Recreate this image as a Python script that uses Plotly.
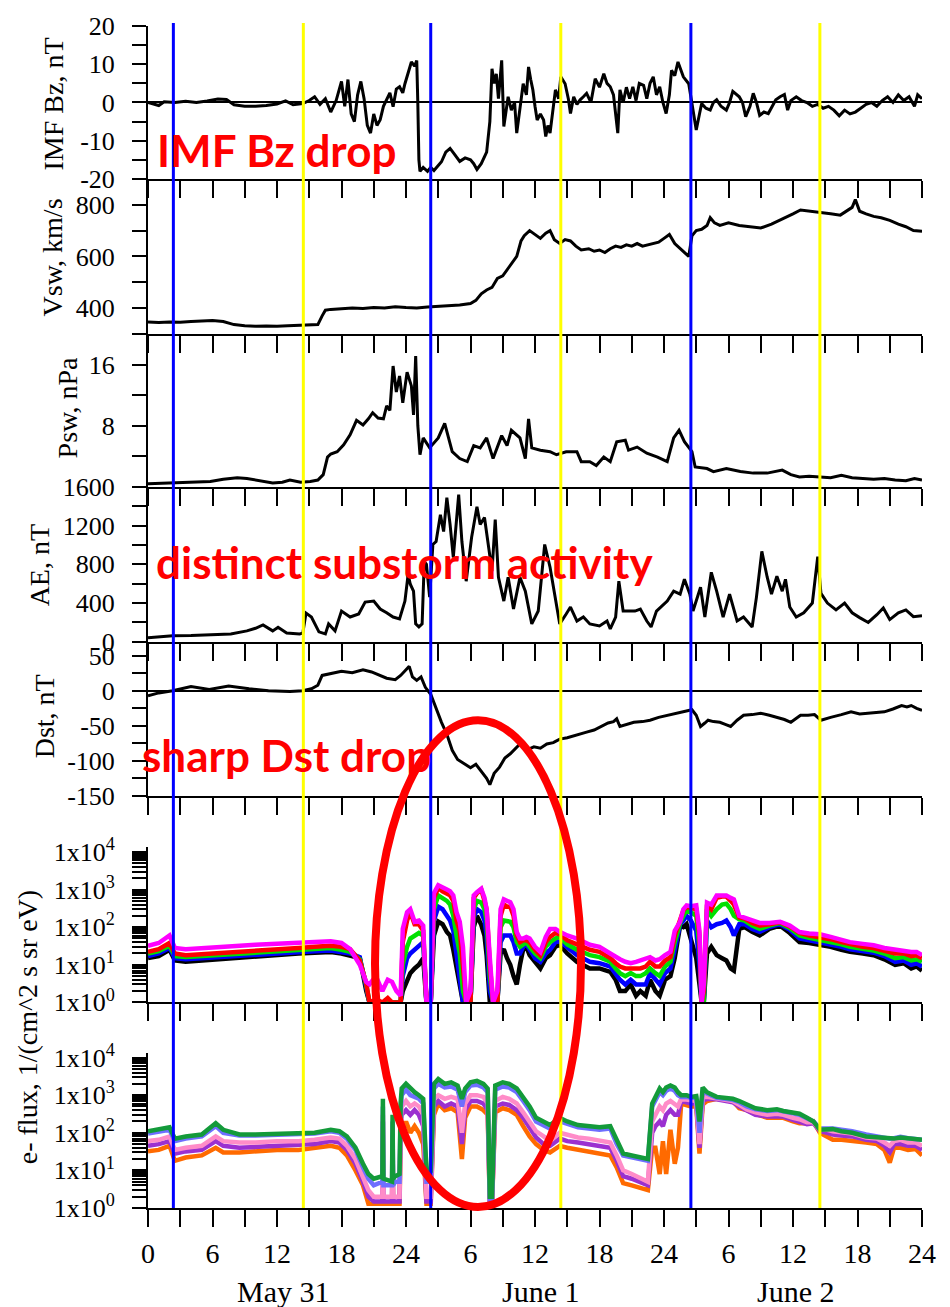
import plotly.graph_objects as go

# ---------------- data (hours from 00 UT May 31) ----------------
BZ_T = [0, 0.5, 1.0, 1.5, 2.5, 3.5, 4.5, 5.5, 6.5, 7.3, 8.0, 9.0, 10.0, 11.0, 12.0, 12.8, 13.5, 14.4,
        15.0, 15.5, 16.0, 16.5, 17.0, 17.5, 18.0, 18.3, 18.6, 18.9, 19.2, 19.5, 19.8, 20.1, 20.4, 20.7,
        21.0, 21.3, 21.6, 21.9, 22.2, 22.5, 22.8, 23.1, 23.4, 23.7, 23.9, 24.2, 24.5, 24.8, 25.0, 25.1,
        25.2, 25.3, 25.6, 26.0, 26.3, 26.6, 26.9, 27.3, 27.7, 28.1, 28.5, 29.0, 29.5, 30.0, 30.3, 30.6,
        31.0, 31.5, 31.8, 32.0, 32.2, 32.4, 32.6, 32.9, 33.1, 33.3, 33.5, 33.8, 34.1, 34.3, 34.6, 34.9,
        35.2, 35.4, 35.6, 35.8, 36.0, 36.2, 36.5, 36.8, 37.0, 37.2, 37.4, 37.7, 37.9, 38.2, 38.4, 38.8,
        39.1, 39.3, 39.6, 39.9, 40.2, 40.5, 40.8, 41.2, 41.6, 42.0, 42.4, 42.7, 43.0, 43.3, 43.5, 43.7,
        43.9, 44.2, 44.5, 44.8, 45.1, 45.4, 45.7, 46.1, 46.4, 46.7, 47.0, 47.3, 47.6, 47.9, 48.2, 48.5,
        48.7, 49.0, 49.3, 49.6, 49.8, 50.3, 50.6, 51.0, 51.3, 51.5, 51.9, 52.3, 52.6, 52.9, 53.3, 53.8,
        54.1, 54.4, 55.0, 55.3, 55.6, 56.0, 56.3, 56.6, 56.9, 57.3, 57.7, 58.0, 58.4, 58.8, 59.2, 59.5,
        59.8, 60.3, 60.8, 61.3, 61.8, 62.3, 62.8, 63.3, 63.8, 64.3, 64.8, 65.3, 65.8, 66.3, 66.8, 67.3,
        67.8, 68.3, 68.8, 69.3, 69.8, 70.3, 70.8, 71.3, 71.6, 72.0]
BZ_V = [0.0, -0.5, -0.8, 0.2, 0.0, 0.3, 0.0, 0.4, 0.9, 0.8, -0.6, -1.0, -1.0, -0.8, -0.4, 0.4, -0.6, -0.3,
        0.5, 1.5, -0.5, 1.0, -2.5, 0.5, 5.5, -1.0, 6.0, -3.0, -5.0, 2.0, 5.5, 1.0, -6.0, -8.0,
        -3.0, -6.0, -4.5, -1.0, 0.7, 2.5, -1.1, 3.5, 4.1, 2.5, 4.9, 7.5, 10.6, 9.5, 11.0, -0.3,
        -15.0, -18.0, -17.0, -18.0, -17.0, -17.8, -16.7, -15.5, -13.0, -12.0, -13.5, -15.4, -14.5, -15.0, -16.0, -17.5,
        -16.0, -13.0, -5.0, 8.8, 5.0, 7.5, 1.0, 11.0, -6.3, -2.0, 1.5, -2.0, 0.0, -8.0, -1.0, 4.9,
        2.0, 9.3, 6.0, 3.3, -1.0, -4.6, -3.0, -4.6, -8.9, -6.0, -8.0, -2.0, 3.3, 1.0, 6.7, 4.9,
        1.0, -2.9, 1.5, -0.5, 0.7, 1.5, 2.4, 0.0, 6.2, 4.0, 7.5, 5.0, 4.1, 2.0, -3.0, -8.0,
        3.3, 0.0, 4.0, 1.0, 4.1, 0.5, 5.0, 4.5, 1.0, 5.0, 6.7, 2.0, 4.1, 0.0, -2.9, 2.0,
        8.4, 7.0, 10.6, 8.0, 6.7, 4.9, -0.3, -7.2, -3.0, -0.3, -1.5, -2.0, 0.0, 0.7, -1.0, -2.0,
        0.0, 2.9, 1.5, 0.0, -3.7, -1.0, 2.4, 0.0, -3.4, -2.5, -2.9, -1.5, 0.7, 1.5, 2.1, -2.0,
        0.5, 1.5, 0.5, 0.0, -1.0, -0.5, -1.5, -1.0, -2.0, -3.5, -2.0, -3.0, -2.5, -1.5, -0.5, 0.0,
        -1.0, 0.5, 1.5, 0.0, 2.0, 0.5, 1.5, -1.0, 2.0, 1.0]

VSW_T = [0, 1, 2, 3, 4, 5, 6, 7, 8, 9, 10, 11, 12, 13, 14, 15, 15.8, 16.2, 16.5, 17, 18, 19, 20, 21, 22,
         23, 24, 25, 26, 27, 28, 29, 30, 30.5, 31, 31.5, 32, 32.5, 33, 33.5, 34, 34.3, 34.7, 35, 35.5,
         36, 36.5, 37, 37.4, 37.8, 38.3, 38.8, 39.3, 39.8, 40.3, 41, 41.5, 42, 42.5, 43, 43.5, 44, 44.5,
         45, 45.5, 46, 46.5, 47, 47.5, 48, 48.5, 49, 49.5, 50, 50.3, 50.6, 51, 51.5, 52, 52.3, 52.7,
         53.2, 54, 55, 56, 57, 58, 58.8, 59.5, 60, 60.7, 61.5, 62.5, 63.5, 64.4, 65, 65.5, 65.8, 66.2,
         66.8, 67.5, 68.2, 69, 69.8, 70.5, 71.2, 72]
VSW_V = [346, 344, 346, 345, 348, 350, 352, 348, 336, 332, 330, 331, 330, 332, 333, 335, 336, 370, 392, 395,
         398, 400, 398, 402, 400, 405, 402, 400, 404, 406, 408, 412, 418, 430, 455, 470, 480, 515, 525,
         555, 580, 600, 660, 680, 700, 685, 670, 690, 700, 665, 650, 665, 660, 640, 625, 630, 620, 625,
         615, 630, 640, 635, 645, 640, 650, 640, 645, 650, 655, 670, 685, 650, 630, 610, 600, 680, 700,
         705, 720, 750, 730, 720, 730, 720, 715, 710, 725, 740, 755, 765, 780, 775, 770, 765, 760, 775,
         790, 820, 775, 765, 755, 750, 740, 725, 715, 700, 698]

PSW_T = [0, 1, 2.3, 4, 5.8, 7, 8.3, 9.2, 10.1, 11.6, 12.5, 13.2, 14.2, 15.1, 15.8, 16.3, 16.7, 17.0, 17.6,
         18.2, 18.8, 19.4, 20.0, 20.5, 20.9, 21.4, 21.9, 22.2, 22.5, 22.8, 23.1, 23.4, 23.7, 24.1, 24.5,
         24.7, 24.9, 25.1, 25.3, 25.6, 26.2, 26.6, 27.0, 27.6, 28.3, 29.0, 29.7, 30.3, 30.9, 31.5, 32.1,
         32.9, 33.4, 33.8, 34.6, 35.1, 35.4, 35.7, 36.5, 37.4, 38.0, 38.9, 39.9, 40.3, 41.1, 41.7, 42.4,
         43.0, 43.6, 44.4, 44.7, 45.5, 46.4, 47.4, 48.3, 48.9, 49.4, 49.9, 50.6, 50.9, 52.0, 52.6, 53.8,
         55.1, 56.3, 57.6, 59.0, 59.8, 60.6, 61.5, 62.5, 63.5, 64.5, 65.5, 66.5, 67.5, 68.5, 69.5, 70.5,
         71.3, 72]
PSW_V = [0.4, 0.45, 0.5, 0.6, 0.7, 1.0, 1.2, 1.1, 0.9, 0.5, 0.6, 0.9, 0.6, 0.7, 0.9, 1.6, 3.9, 4.3, 4.6,
         5.5, 6.8, 8.7, 8.1, 8.9, 9.7, 9.0, 8.9, 10.6, 10.0, 15.8, 12.4, 14.5, 11.0, 15.0, 13.2,
         9.4, 17.1, 8.0, 4.2, 6.4, 5.1, 5.8, 6.4, 8.3, 4.6, 3.7, 3.3, 5.4, 5.1, 6.4, 3.7,
         6.7, 5.4, 7.4, 6.4, 3.7, 8.9, 5.1, 4.8, 4.6, 4.2, 4.6, 4.6, 3.3, 3.3, 2.8, 3.9,
         3.3, 5.9, 6.1, 4.8, 5.2, 4.4, 3.9, 3.3, 6.4, 7.4, 5.9, 4.6, 2.6, 2.4, 2.0, 2.4,
         2.0, 1.8, 1.8, 2.2, 1.6, 1.3, 1.4, 1.3, 1.2, 1.5, 1.2, 1.1, 1.0, 1.1, 0.9, 0.8,
         1.1, 0.9]

AE_T = [0, 1, 2.3, 4, 5.8, 7.7, 9.2, 10.0, 10.7, 11.2, 11.6, 12.1, 12.9, 14.1, 14.4, 14.7, 15.2, 15.9,
        16.5, 16.8, 17.4, 18.0, 18.8, 19.6, 20.2, 21.0, 21.6, 22.2, 22.8, 23.4, 23.9, 24.2, 24.4, 24.7,
        24.9, 25.2, 25.5, 25.7, 25.9, 26.2, 26.5, 26.8, 27.2, 27.5, 27.8, 28.1, 28.4, 28.9, 29.2, 29.6,
        30.1, 30.6, 30.9, 31.3, 31.7, 32.0, 32.3, 32.6, 33.1, 33.5, 34.0, 34.6, 35.1, 35.7, 36.3, 36.9,
        37.4, 37.8, 38.3, 38.9, 39.3, 39.9, 40.5, 41.1, 42.0, 42.7, 43.0, 43.5, 43.8, 44.2, 45.3, 45.8,
        46.4, 46.8, 47.3, 48.3, 48.9, 49.5, 49.9, 50.4, 50.7, 51.4, 51.8, 52.4, 52.9, 53.5, 54.1, 54.8,
        55.4, 56.2, 56.6, 57.1, 57.6, 58.0, 58.5, 59.0, 59.3, 59.7, 60.3, 61.0, 61.8, 62.3, 62.6, 63.2,
        64.0, 64.8, 65.5, 66.2, 67.0, 67.8, 68.4, 69.0, 69.8, 70.5, 71.2, 72.0]
AE_V = [41, 50, 62, 65, 72, 82, 113, 140, 174, 140, 113, 150, 92, 82, 90, 297, 256, 103,
        82, 185, 113, 318, 256, 287, 410, 421, 339, 300, 256, 236, 421, 698, 595, 523,
        185, 154, 185, 831, 800, 462, 1005, 1036, 1313, 1139, 1488, 1211, 872, 1519, 1036, 626,
        1077, 1395, 1211, 1283, 934, 729, 1262, 667, 421, 667, 339, 667, 523, 185, 318, 1005,
        770, 523, 185, 287, 359, 215, 256, 185, 164, 215, 133, 256, 626, 318, 318, 339,
        215, 154, 318, 421, 523, 493, 646, 493, 318, 564, 256, 718, 523, 256, 493, 215,
        256, 154, 462, 934, 667, 493, 677, 523, 646, 359, 256, 300, 400, 880, 500, 400,
        330, 400, 300, 250, 200, 280, 350, 230, 300, 330, 260, 270]

DST_T = [0, 1, 2.3, 4, 5.7, 7.5, 9.4, 11.2, 13.2, 14.4, 15.2, 15.8, 16.2, 17, 18, 19, 20, 20.8, 21.5,
         22.2, 23, 23.5, 24, 24.3, 24.6, 25, 25.4, 25.8, 26.3, 26.8, 27.3, 27.8, 28.3, 28.8, 29.3, 30,
         30.5, 31, 31.5, 31.8, 32.2, 32.7, 33.2, 33.7, 34.2, 34.6, 35.3, 35.9, 36.5, 37.1, 37.7, 38.3,
         39.0, 39.6, 40.2, 40.8, 41.5, 42.1, 42.8, 43.3, 43.6, 43.9, 44.5, 45.2, 46.0, 46.7, 47.5, 48.3,
         49.0, 49.8, 50.6, 51.0, 51.4, 51.8, 52.1, 52.6, 53.2, 53.7, 54.2, 54.8, 55.4, 56.2, 57.0, 57.8,
         58.5, 59.2, 59.8, 60.3, 60.7, 61.4, 62.0, 62.6, 63.0, 63.5, 64.5, 65.4, 66.2, 67.0, 67.8, 68.5,
         69.3, 70.1, 70.6, 71.0, 71.5, 72.0]
DST_V = [-7, -3, 0, 6, 2, 7, 3, 0, -1, 0, 3, 8, 22, 25, 28, 26, 30, 27, 22,
         18, 16, 22, 30, 35, 20, 15, 20, 5, -5, -25, -45, -62, -85, -98, -103, -110,
         -105, -115, -125, -134, -118, -109, -96, -90, -82, -76, -84, -80, -82, -76, -74, -69,
         -67, -64, -62, -59, -56, -51, -46, -44, -40, -51, -48, -45, -44, -42, -38, -35,
         -33, -30, -27, -35, -51, -46, -42, -44, -45, -48, -51, -42, -35, -34, -32, -35,
         -38, -41, -45, -40, -35, -35, -34, -42, -40, -38, -34, -30, -33, -32, -31, -30,
         -26, -21, -23, -21, -25, -28]

# electron flux, detector 1 (five energy channels)
FLUX1_T = [0, 1.0, 2.0, 2.5, 3.5, 5.0, 6.5, 8.0, 10.0, 12.0,
           14.0, 15.5, 17.0, 18.0, 18.8, 19.7, 20.3, 20.6, 21.2, 21.8,
           22.3, 22.7, 23.1, 23.5, 23.7, 24.1, 24.4, 24.8, 25.2, 25.6,
           25.9, 26.3, 26.6, 27.0, 27.4, 27.8, 28.1, 28.4, 28.7, 29.0,
           29.3, 29.6, 30.0, 30.3, 30.6, 31.0, 31.3, 31.5, 31.8, 32.1,
           32.5, 32.8, 33.1, 33.4, 33.7, 34.0, 34.3, 34.6, 34.9, 35.2,
           35.5, 36.0, 36.5, 37.0, 37.4, 37.9, 38.3, 39.0, 39.9, 41.1,
           42.0, 43.0, 43.5, 43.9, 44.4, 44.9, 45.4, 45.8, 46.3, 46.7,
           47.2, 47.6, 48.1, 48.6, 49.0, 49.5, 49.8, 50.1, 50.5, 51.0,
           51.3, 51.5, 51.7, 52.0, 52.4, 52.9, 53.4, 53.8, 54.2, 54.5,
           55.0, 55.5, 56.2, 56.9, 57.8, 58.8, 59.7, 60.6, 61.5, 62.5,
           63.5, 64.5, 65.3, 66.5, 67.5, 68.5, 69.5, 70.3, 71.0, 71.5,
           72.0]
FLUX1_BLACK = [15, 17, 25, 13, 12, 13, 14, 15, 16, 18,
               20, 21, 22, 20, 18, 15, 2, 1, 1, 1,
               1, 1, 1, 1, 2, 4, 6, 8, 10, 15,
               1, 1, 60, 140, 120, 75, 60, 25, 8, 2.3,
               1, 1, 1, 100, 200, 115, 60, 18, 1, 1,
               1, 20, 26, 15, 10, 5, 3, 10, 26, 30,
               18, 12, 8, 15, 18, 30, 34, 20, 12, 8,
               8, 6.5, 4, 2, 2, 3, 1.5, 2, 1.5, 4,
               2, 1.5, 4, 5, 15, 110, 100, 120, 50, 15,
               3, 1, 1, 20, 30, 18, 15, 13, 8, 7,
               90, 100, 75, 60, 90, 110, 70, 40, 38, 34,
               30, 25, 22, 20, 18, 14, 10, 11, 8, 9,
               7]
FLUX1_BLUE = [17, 20, 28, 15, 14, 15, 16, 17, 18, 20,
              22, 23, 24, 22, 20, 16, 2.5, 1, 1, 1,
              1, 1, 1, 1, 5, 15, 20, 25, 30, 40,
              1, 1, 150, 350, 300, 200, 150, 80, 20, 5,
              1, 1, 1, 180, 300, 250, 150, 60, 2, 1,
              1, 40, 60, 60, 60, 40, 20, 20, 30, 35,
              25, 15, 12, 20, 25, 40, 42, 28, 18, 12,
              11, 9, 6, 4, 3, 4, 3, 3, 3, 6,
              4, 3, 6, 8, 25, 120, 150, 200, 150, 80,
              10, 1, 1, 150, 100, 120, 130, 150, 100, 60,
              120, 120, 90, 75, 100, 120, 85, 50, 45, 40,
              35, 30, 26, 24, 21, 17, 12, 13, 10, 11,
              9]
FLUX1_GREEN = [20, 23, 32, 17, 16, 17, 18, 19, 21, 23,
               25, 26, 28, 25, 22, 14, 3, 1, 1, 1,
               1, 1, 1, 1, 10, 30, 50, 60, 70, 60,
               1, 1, 300, 700, 600, 500, 400, 200, 60, 20,
               2, 1, 1, 300, 500, 450, 300, 150, 5, 1,
               1, 100, 150, 140, 140, 100, 40, 30, 35, 40,
               30, 20, 15, 30, 40, 50, 55, 35, 25, 18,
               16, 12, 8, 6, 5, 6, 5, 5, 6, 8,
               6, 5, 9, 12, 40, 130, 200, 280, 250, 200,
               30, 1, 1, 300, 200, 300, 400, 420, 300, 200,
               160, 150, 110, 90, 110, 130, 95, 60, 52, 46,
               40, 35, 30, 27, 24, 20, 15, 16, 13, 14,
               12]
FLUX1_RED = [22, 26, 38, 20, 18, 19, 21, 22, 24, 26,
             28, 30, 32, 30, 26, 13, 3.2, 1, 1.2, 1,
             1.3, 1, 1, 1, 40, 150, 250, 120, 120, 80,
             1, 1, 600, 1100, 900, 800, 700, 500, 150, 80,
             10, 1, 1, 600, 800, 1000, 500, 300, 10, 1,
             1, 200, 400, 350, 350, 200, 60, 40, 45, 45,
             40, 25, 18, 40, 55, 70, 65, 45, 35, 25,
             22, 15, 11, 9, 8, 8, 8, 8, 9, 12,
             9, 9, 13, 16, 60, 140, 280, 350, 330, 300,
             60, 1, 2, 400, 300, 600, 650, 650, 500, 400,
             180, 170, 130, 110, 120, 135, 105, 70, 60, 55,
             48, 40, 35, 30, 28, 24, 20, 20, 17, 18,
             15]
FLUX1_MAGENTA = [32, 38, 60, 28, 26, 28, 30, 32, 34, 36,
                 38, 40, 42, 38, 26, 10, 3.5, 3, 5, 2,
                 4, 3.5, 2, 1.5, 90, 250, 300, 140, 150, 110,
                 1, 1, 800, 1300, 1100, 1000, 900, 700, 250, 140,
                 30, 1, 2, 700, 850, 1050, 600, 300, 15, 1,
                 2, 300, 550, 500, 460, 300, 75, 50, 50, 55,
                 50, 30, 22, 55, 90, 90, 75, 60, 50, 34,
                 30, 20, 16, 14, 12, 11, 12, 13, 14, 16,
                 13, 14, 18, 22, 80, 140, 300, 380, 360, 380,
                 80, 1, 3, 450, 400, 700, 700, 700, 600, 550,
                 200, 180, 150, 130, 130, 140, 110, 74, 68, 65,
                 55, 45, 40, 36, 33, 28, 25, 24, 22, 22,
                 18]

# electron flux, detector 2 (five energy channels)
FLUX2_T = [0, 1.0, 2.0, 2.5, 3.5, 5.0, 6.3, 7.0, 8.5, 10.0,
           12.0, 14.0, 15.5, 17.0, 17.8, 18.5, 19.3, 20.0, 20.5, 21.0,
           21.8, 21.85, 21.9, 22.7, 22.75, 22.8, 23.0, 23.4, 23.5, 23.6,
           24.0, 24.4, 24.8, 25.2, 25.6, 25.9, 26.3, 26.6, 27.0, 27.6,
           28.2, 28.8, 29.2, 29.5, 30.0, 30.6, 31.2, 31.6, 31.8, 32.0,
           32.3, 33.0, 33.6, 34.3, 34.9, 35.5, 36.1, 36.8, 37.4, 38.3,
           39.0, 40.0, 41.0, 42.0, 43.0, 43.6, 44.2, 45.0, 45.8, 46.5,
           46.9, 47.2, 47.6, 47.9, 48.2, 48.6, 49.0, 49.3, 49.6, 50.1,
           50.5, 51.0, 51.3, 51.6, 52.0, 52.9, 53.8, 54.4, 55.0, 55.7,
           56.5, 57.6, 58.5, 59.1, 60.0, 60.6, 61.3, 61.9, 62.5, 63.2,
           63.7, 64.5, 65.5, 66.8, 67.8, 68.5, 69.0, 69.4, 70.0, 70.7,
           71.4, 72.0]
FLUX2_ORANGE = [32, 35, 45, 18, 22, 25, 40, 30, 30, 32,
                35, 35, 40, 45, 40, 25, 10, 4, 1.3, 1.3,
                1.3, 1.3, 1.3, 1.3, 20, 1.3, 1.3, 1.3, 50, 100,
                200, 100, 150, 100, 50, 1.3, 1.3, 300, 600, 400,
                450, 350, 20, 250, 500, 500, 400, 300, 1.2, 1.2,
                350, 450, 400, 300, 150, 80, 50, 35, 30, 45,
                40, 35, 32, 28, 25, 12, 4.6, 4, 3.5, 3,
                40, 40, 8, 60, 8, 120, 15, 40, 600, 550,
                500, 520, 28, 560, 700, 800, 750, 700, 450, 400,
                320, 250, 250, 250, 200, 180, 180, 200, 100, 80,
                65, 65, 62, 55, 50, 35, 16, 40, 40, 35,
                37, 25]
FLUX2_PURPLE = [45, 50, 60, 28, 32, 35, 60, 45, 40, 42,
                45, 45, 50, 60, 55, 35, 15, 5, 2, 1.5,
                1.5, 200, 1.5, 1.5, 80, 1.5, 1.5, 1.5, 150, 300,
                400, 300, 400, 300, 150, 1.5, 1.5, 500, 700, 500,
                600, 500, 50, 400, 700, 700, 600, 400, 1.3, 1.3,
                500, 600, 550, 400, 250, 130, 75, 50, 45, 70,
                60, 55, 50, 45, 40, 18, 7, 6, 5, 4,
                100, 150, 200, 150, 300, 400, 300, 300, 700, 650,
                600, 600, 40, 700, 800, 780, 720, 650, 500, 380,
                300, 270, 280, 270, 220, 200, 170, 180, 110, 100,
                90, 85, 80, 65, 60, 45, 30, 50, 50, 45,
                45, 35]
FLUX2_PINK = [60, 65, 80, 35, 40, 45, 80, 60, 55, 55,
              60, 60, 65, 75, 70, 45, 20, 7, 3, 2,
              2, 300, 2, 2, 100, 2, 2, 2, 200, 500,
              700, 500, 600, 500, 300, 2, 2, 800, 1000, 800,
              900, 800, 100, 600, 1000, 1000, 900, 600, 1.3, 1.3,
              700, 900, 800, 600, 350, 200, 110, 80, 60, 100,
              90, 75, 70, 60, 55, 25, 10, 8, 6, 5,
              200, 300, 500, 400, 600, 700, 600, 500, 800, 750,
              700, 700, 50, 900, 900, 800, 750, 700, 550, 420,
              350, 300, 320, 300, 250, 230, 190, 190, 120, 120,
              110, 100, 95, 75, 70, 55, 45, 60, 65, 55,
              55, 45]
FLUX2_LAVENDER = [95, 105, 120, 60, 70, 80, 150, 100, 85, 85,
                  90, 90, 95, 110, 100, 70, 35, 12, 6, 4,
                  5, 500, 4, 4, 200, 4, 5, 5, 400, 1000,
                  1400, 1000, 900, 800, 600, 5, 5, 1500, 2000, 1600,
                  1700, 1400, 500, 1200, 1800, 1900, 1600, 1200, 1.5, 1.5,
                  1400, 1700, 1600, 1200, 700, 400, 200, 160, 130, 200,
                  170, 140, 130, 120, 130, 50, 25, 22, 20, 18,
                  500, 700, 1200, 1000, 1300, 1500, 1300, 1000, 900, 900,
                  850, 850, 100, 1300, 1100, 850, 800, 750, 650, 500,
                  420, 380, 400, 360, 330, 300, 240, 200, 130, 135,
                  130, 120, 110, 90, 80, 70, 70, 72, 78, 72,
                  70, 65]
FLUX2_GREEN = [110, 120, 140, 70, 80, 90, 180, 120, 90, 90,
               95, 95, 100, 120, 110, 80, 40, 15, 8, 6,
               7, 800, 6, 5, 300, 6, 7, 8, 600, 1500,
               2000, 1500, 1200, 1000, 800, 10, 10, 2000, 2700, 2000,
               2200, 1800, 800, 1500, 2200, 2400, 2000, 1500, 2, 2,
               1800, 2200, 2000, 1500, 900, 500, 250, 200, 160, 250,
               200, 160, 150, 140, 150, 60, 28, 25, 22, 20,
               600, 900, 1500, 1200, 1600, 1800, 1600, 1200, 1000, 1000,
               900, 950, 200, 1600, 1200, 900, 850, 800, 700, 560,
               450, 400, 420, 380, 350, 320, 250, 200, 120, 125,
               125, 110, 100, 80, 75, 70, 70, 70, 75, 70,
               70, 65]

# event markers (hours)
BLUE_LINES = [2.36, 26.3, 50.5]
YELLOW_LINES = [14.45, 38.4, 62.5]

# ticks / labels
X_TICKS = list(range(0, 73, 3))
X_TICK_LABELS = ["0", "", "6", "", "12", "", "18", "", "24", "", "6", "", "12", "", "18", "",
                 "24", "", "6", "", "12", "", "18", "", "24"]
DAY_LABELS = ["May 31", "June 1", "June 2"]
DAY_CENTERS = [12.6, 36.6, 60.3]

BZ_TICKS = [-20, -15, -10, -5, 0, 5, 10, 15, 20]
BZ_LABELS = ["-20", "", "-10", "", "0", "", "10", "", "20"]
VSW_TICKS = [300, 400, 500, 600, 700, 800, 900]
VSW_LABELS = ["", "400", "", "600", "", "800", ""]
PSW_TICKS = [0, 4, 8, 12, 16, 20]
PSW_LABELS = ["", "", "8", "", "16", ""]
AE_TICKS = [0, 200, 400, 600, 800, 1000, 1200, 1400, 1600]
AE_LABELS = ["0", "", "400", "", "800", "", "1200", "", "1600"]
DST_TICKS = [-150, -125, -100, -75, -50, -25, 0, 25, 50]
DST_LABELS = ["-150", "", "-100", "", "-50", "", "0", "", "50"]
FLUX_DECADES = [1, 10, 100, 1000, 10000]
FLUX_POWER_LABELS = ["1x10<sup>0</sup>", "1x10<sup>1</sup>", "1x10<sup>2</sup>",
                     "1x10<sup>3</sup>", "1x10<sup>4</sup>"]

TITLES = ["IMF Bz, nT", "Vsw, km/s", "Psw, nPa", "AE, nT", "Dst, nT",
          "e- flux, 1/(cm^2 s sr eV)"]
NOTES = ["IMF Bz drop", "distinct substorm activity", "sharp Dst drop"]

# ---------------- figure ----------------
SERIF = "Liberation Serif"
FIG_W, FIG_H = 950, 1307
ML, MR, MT, MB = 148, 28, 18, 99
PLOT_H = FIG_H - MT - MB
PLOT_W = FIG_W - ML - MR


def py2paper(py):
    return (FIG_H - MB - py) / PLOT_H


def px2paper(px):
    return (px - ML) / PLOT_W


# pixel extents (top, bottom) of each panel
PANEL_PX = [(18, 172), (172, 328), (328, 482), (482, 638), (638, 793), (845, 1001), (1052, 1208)]

fig = go.Figure()

black_series = [(BZ_T, BZ_V), (VSW_T, VSW_V), (PSW_T, PSW_V), (AE_T, AE_V), (DST_T, DST_V)]
for i, (t, v) in enumerate(black_series):
    n = "" if i == 0 else str(i + 1)
    fig.add_trace(go.Scatter(x=t, y=v, mode="lines", line=dict(color="black", width=3),
                             xaxis="x" + n, yaxis="y" + n, hoverinfo="skip"))

flux1 = [(FLUX1_BLACK, "#000000"), (FLUX1_BLUE, "#0000FF"), (FLUX1_GREEN, "#00E000"),
         (FLUX1_RED, "#FF0000"), (FLUX1_MAGENTA, "#FF00FF")]
for v, c in flux1:
    fig.add_trace(go.Scatter(x=FLUX1_T, y=v, mode="lines", line=dict(color=c, width=4.5),
                             xaxis="x6", yaxis="y6", hoverinfo="skip"))

flux2 = [(FLUX2_ORANGE, "#FF6A00"), (FLUX2_PURPLE, "#9B30D0"), (FLUX2_PINK, "#FF8CC8"),
         (FLUX2_LAVENDER, "#6E6EFF"), (FLUX2_GREEN, "#139A3A")]
for v, c in flux2:
    fig.add_trace(go.Scatter(x=FLUX2_T, y=v, mode="lines", line=dict(color=c, width=4.5),
                             xaxis="x7", yaxis="y7", hoverinfo="skip"))

flux_ticks = [m * d for d in FLUX_DECADES[:-1] for m in range(1, 10)] + [FLUX_DECADES[-1]]
flux_labels = [FLUX_POWER_LABELS[FLUX_DECADES.index(v)] if v in FLUX_DECADES else ""
               for v in flux_ticks]

y_specs = [
    dict(range=[-20, 20], tickvals=BZ_TICKS, ticktext=BZ_LABELS, zeroline=True),
    dict(range=[300, 900], tickvals=VSW_TICKS, ticktext=VSW_LABELS),
    dict(range=[0, 20], tickvals=PSW_TICKS, ticktext=PSW_LABELS),
    dict(range=[0, 1600], tickvals=AE_TICKS, ticktext=AE_LABELS),
    dict(range=[-150, 70], tickvals=DST_TICKS, ticktext=DST_LABELS, zeroline=True),
    dict(type="log", range=[0, 4.12], tickvals=flux_ticks, ticktext=flux_labels),
    dict(type="log", range=[0, 4.12], tickvals=flux_ticks, ticktext=flux_labels),
]

layout = dict(width=FIG_W, height=FIG_H, margin=dict(l=ML, r=MR, t=MT, b=MB),
              paper_bgcolor="white", plot_bgcolor="white", showlegend=False,
              font=dict(family=SERIF, color="black"))

for i in range(7):
    n = "" if i == 0 else str(i + 1)
    top, bot = PANEL_PX[i]
    dom = [max(0.0, py2paper(bot)), min(1.0, py2paper(top))]
    ys = dict(domain=dom, anchor="x" + n, showline=True, linecolor="black", linewidth=2,
              ticks="outside", ticklen=14, tickwidth=2, tickcolor="black", showgrid=False,
              zeroline=False, tickfont=dict(family=SERIF, size=26, color="black"),
              ticklabelstandoff=12, tickmode="array")
    ys.update(y_specs[i])
    if ys.get("zeroline"):
        ys.update(zerolinecolor="black", zerolinewidth=1.6)
    xs = dict(domain=[0, 1], anchor="y" + n, range=[0, 72], showline=True, linecolor="black",
              linewidth=2.2, ticks="outside", ticklen=17, tickwidth=2, tickcolor="black",
              tickmode="array", tickvals=X_TICKS, ticktext=X_TICK_LABELS, showgrid=False,
              zeroline=False, showticklabels=(i == 6),
              tickfont=dict(family=SERIF, size=28, color="black"), ticklabelstandoff=2)
    if i > 0:
        xs["matches"] = "x"
    layout["xaxis" + n] = xs
    layout["yaxis" + n] = ys

fig.update_layout(**layout)

shapes = []
for h in BLUE_LINES:
    shapes.append(dict(type="line", xref="x", yref="paper", x0=h, x1=h, y0=0, y1=py2paper(15),
                       line=dict(color="#0000FF", width=3), layer="above"))
for h in YELLOW_LINES:
    shapes.append(dict(type="line", xref="x", yref="paper", x0=h, x1=h, y0=0, y1=py2paper(15),
                       line=dict(color="#FFFF00", width=3), layer="above"))
shapes.append(dict(type="circle", xref="paper", yref="paper",
                   x0=px2paper(375), x1=px2paper(581), y0=py2paper(1207), y1=py2paper(717),
                   line=dict(color="#FF0000", width=8), layer="above"))
fig.update_layout(shapes=shapes)

ann = []
title_pos = [(53, 97), (52, 251), (67, 403), (39, 561), (44, 713), (27, 1026)]
for txt, (px, py) in zip(TITLES, title_pos):
    ann.append(dict(text=txt, xref="paper", yref="paper", x=px2paper(px), y=py2paper(py),
                    xanchor="center", yanchor="middle", textangle=-90, showarrow=False,
                    font=dict(family=SERIF, size=28, color="black")))
for txt, c in zip(DAY_LABELS, DAY_CENTERS):
    ann.append(dict(text=txt, xref="x7", yref="paper", x=c, y=py2paper(1292),
                    xanchor="center", yanchor="middle", showarrow=False,
                    font=dict(family=SERIF, size=30, color="black")))
note_pos = [(155, 143), (154, 558), (140, 752)]
for txt, (px, py) in zip(NOTES, note_pos):
    ann.append(dict(text=txt, xref="paper", yref="paper", x=px2paper(px), y=py2paper(py),
                    xanchor="left", yanchor="middle", showarrow=False,
                    font=dict(family="Lato", size=44, color="#FF0000", weight="bold")))
fig.update_layout(annotations=ann)

fig.write_html("out.html")
